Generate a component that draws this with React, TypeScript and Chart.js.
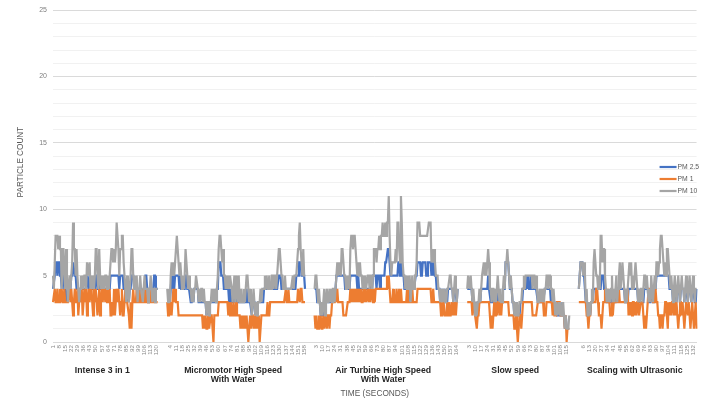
import { useEffect, useRef } from 'react';
import { Chart, registerables } from 'chart.js';

Chart.register(...registerables);

const SERIES_NAMES = ['PM 2.5', 'PM 1', 'PM 10'];
const SERIES_COLORS = ['#4472C4', '#ED7D31', '#A5A5A5'];
const GROUP_NAMES = [
  ['Intense 3 in 1'],
  ['Micromotor High Speed', 'With Water'],
  ['Air Turbine High Speed', 'With Water'],
  ['Slow speed'],
  ['Scaling with Ultrasonic'],
];
const GROUP_FIRST_TICK = [1, 4, 3, 3, 6];
const TICK_EVERY = 7;
const GAP_SLOTS = 10;
const Y_MAX = 25;
const Y_LABEL_EVERY = 5;
const X_TITLE = 'TIME (SECONDS)';
const Y_TITLE = 'PARTICLE COUNT';

// ---- Intense 3 in 1 ----
const G1_PM25 = [
  4,4,5,6,6,5,6,6,5,5, 4,5,5,4,4,3,3, 4,4,4,4,5,5, 6,6,5, 5,4,4,4, 3,4,4,4,4,4,
  4,4,4,5,5,4, 5,4,4,4,4,4, 4,5,5,4,4, 5,4,4,4, 4,4,4,4,4,4, 4,4,4,5,5,5,5,
  5,5,5,5,5,5, 4,5,5,5,5,4, 4,4,3,4,4,3,4,4, 5,5,5,4,4, 4,4,3,4,4,4,4,4,3,4,4,5,
  5,4,3,4,4,4,4,3,4,5,5,4,4,4,
];
const G1_PM1 = [
  3,3,4,3,3,4,3,3,4,3, 4,3,3,4,3,3,3, 3,4,4,3,4,3, 2,3,4, 3,3,4,2, 3,4,3,4,2,3,
  4,3,4,2,3,4, 3,4,4,3,2,4, 3,4,3,2,3, 4,2,3,4, 3,4,4,3,4,3, 4,3,4,2,2,3,2,
  4,2,3,4,3,4, 3,2,3,4,2,2, 3,4,3,3,3,2,1,3, 1,3,4,3,3, 3,4,3,3,4,3,3,4,3,3,3,4,
  3,3,3,4,3,3,4,3,3,3,3,3,3,3,
];
const G1_PM10 = [
  5,4,6,8,8,8,7,8,7,7, 4,7,7,5,4,7,5, 3,4,5,4,5,6, 9,7,7, 5,7,5,4, 3,4,5,4,5,4,
  5,5,4,6,6,5, 6,4,5,4,5,4, 5,7,7,5,4, 7,5,4,5, 4,5,4,5,5,4, 5,4,5,6,7,7,6,
  7,6,7,9,8,7, 5,7,7,8,8,6, 5,4,3,5,4,3,4,5, 7,7,5,4,5, 4,5,3,4,4,5,4,4,3,4,5,4,
  4,4,3,4,4,5,4,3,4,4,3,4,4,4,
];

// ---- Micromotor High Speed With Water ----
const G2_PM25 = [
  3,3,3,3, 4,5,4,5,4,5,5, 5,5, 5,4,5,4, 4,4,4,4, 5,5,4, 4,4,4,3, 3,4,3,4, 4,4,4,4,
  3,3,3,3,3,3,3, 3,3,2,3,3,2,3, 3,3,3,3,3,3, 3,4,4, 6,6,6,5,5,5,4, 4,4,4,4,
  4,3,4,3,3, 3,3,4,3,4,3,3,4, 3,3,3,3,3,3,3, 3,4,3,3,3, 3,3,2,3,3, 3,2,3,2,3,3,
  3,3,3,3,3,4, 4,4,4,4,4,4, 4,4,4,5,4,4,5,4,4,4,5,5,5,4, 4,4,4,4,4,4,4,4,
  4,4,4,4,4,4,4,4, 5,5,5,6, 6,6,5, 5,5,5,4,
];
const G2_PM1 = [
  3,2,3,2, 3,2,3,4,3,4,3, 3,3, 2,2,2,2, 2,2,2,2, 2,2,2, 2,2,2,2, 2,2,2,2, 2,2,2,2,
  2,2,2,2,2,1,2, 1,2,1,1,2,1,1, 2,2,1,0,2,2, 2,2,2, 3,3,3,3,3,3,3, 3,3,3,3,
  2,3,2,3,2, 2,3,2,2,3,2,2,2, 2,1,2,1,2,1,2, 1,2,1,0,1, 2,1,2,2,1, 2,1,2,1,1,2,
  0,1,2,2,2,2, 2,2,2,3,2,2, 3,3,3,3,3,3,3,3,3,3,3,3,3,3, 3,3,3,3,4,3,3,4,
  3,3,3,3,3,3,3,3, 3,3,4,4, 3,4,4, 3,3,3,3,
];
const G2_PM10 = [
  4,3,4,3, 5,6,5,6,5,6,6, 8,7, 6,5,6,5, 4,5,4,5, 7,6,5, 4,5,4,4, 3,4,3,4, 4,5,5,4,
  3,4,3,4,4,3,4, 3,3,2,3,3,2,3, 3,4,3,4,3,4, 3,4,5, 7,8,8,7,6,7,5, 5,4,5,4,
  5,4,5,5,4, 3,4,5,3,5,4,3,5, 3,3,4,3,3,4,3, 4,5,5,4,3, 4,3,2,3,4, 3,2,3,2,3,3,
  3,4,3,4,4,4, 5,4,5,4,4,5, 4,4,5,5,4,5,5,4,5,5,7,7,6,5, 5,4,4,5,4,4,4,4,
  4,4,4,4,5,4,5,5, 5,6,7,8, 9,7,6, 5,7,5,5,
];

// ---- Air Turbine High Speed With Water ----
const G3_PM25 = [
  4,4,4,3,3,3, 3,2,2,2,2,3,2, 3,3,3,3,3,3,3, 3,3,4,3,4,5,5,5, 5,5,5,5,5, 5,5,4,4,
  4,4,4,4,5,5, 5,5,5,5,5,5,4,5, 4,4,4,4,4,4, 4,4,4,4,4,4, 4,4,5,4,5,5,5,
  5,4,5,5,5,4,5, 5,5,5,5,6,6,6,7, 7,6,5, 5,5,5,5,5,5,5, 5,6,6,5, 6,6,5,
  5,4,4,4,4,4,4,4, 3,4,4,4,4,4,5,5, 6,6,6,6,5,5,6,6, 6,6,5,5,6,6,6,6,
  5,6,5,6,5,5,4,4, 4,4,3,4,3,4,3,4, 3,3,3,4,4,4,4, 4,4,3,4,4,4,3,4,
];
const G3_PM1 = [
  2,1,2,1,1,2, 1,2,1,1,2,1,2, 2,1,2,2,1,2,2, 3,3,3,3,4,3,4,3, 3,3,3,3,3, 2,2,2,2,
  2,3,3,3,4,3, 4,3,4,3,4,3,4,3, 4,3,4,3,3,4, 3,4,3,3,4,3, 4,3,4,4,3,4,3,
  4,4,4,4,4,4,4, 4,4,4,4,4,4,5,4, 5,4,3, 3,3,4,3,3,3,4, 3,3,4,3, 4,3,3,
  3,3,3,3,4,3,3,3, 3,3,4,3,3,3,3,3, 4,4,4,4,4,4,4,4, 4,4,4,4,4,4,4,4,
  3,3,4,3,3,3,3,3, 3,3,3,2,3,2,3,2, 2,2,3,2,3,2,2, 3,2,3,2,3,2,3,3,
];
const G3_PM10 = [
  4,5,5,4,3,4, 3,2,3,2,3,4,2, 3,4,3,3,4,3,4, 3,4,4,3,4,5,6,5, 6,6,5,7,7, 6,5,5,4,
  5,4,5,4,7,8, 8,7,8,8,7,6,5,6, 5,6,5,5,4,5, 4,5,4,4,5,5, 4,5,5,4,5,7,7,
  7,6,7,7,8,7,8, 8,9,8,8,9,8,9,9, 11,8,6, 5,6,6,6,6,7,6, 9,9,7,6, 11,9,6,
  5,5,4,5,4,5,4,5, 3,4,5,4,4,5,5,6, 9,9,9,8,8,8,8,8, 8,8,8,8,8,9,9,9,
  6,7,6,7,6,5,5,5, 4,4,3,4,3,4,3,4, 3,3,4,4,4,5,5, 4,4,3,4,5,4,3,4,
];

// ---- Slow speed ----
const G4_PM25 = [
  4,4,4,4,4, 4,3,3,3,2,3, 2,3,3,3,3,4, 4,4,4,4,4, 4,4,5,4,4, 3,3,3,4,3,3,
  3,3,4,3,3,3,3, 3,4,4,4,6,6, 6,6,5,4,4,4, 3,3,2,3,2,3, 2,2,2,3,3,3,
  4,4,4,4,5,4, 5,4,4,5,4,4,4, 4,4,4,4,3,3,3, 3,3,3,3,3,4,4, 4,4,4,4,4,3,
  3,3,3,3,2,3,2, 2,2,2,3,2,2,2, 2,1,2,1,1,1,1,
];
const G4_PM1 = [
  3,3,3,3,3, 3,2,3,3,2,2, 1,2,2,3,3,3, 3,3,3,3,3, 3,3,3,3,3, 1,2,1,2,3,2,
  3,2,3,3,2,3,2, 3,3,3,3,3,3, 3,3,2,2,2,2, 2,2,1,1,2,1, 0,1,2,2,1,2,
  3,3,3,3,3,3, 3,3,3,3,3,2,2, 2,2,2,2,3,3,3, 3,3,3,3,2,2,2, 3,3,3,3,3,3,
  3,2,3,2,2,2,3, 3,3,3,2,2,2,2, 2,1,2,0,1,1,1,
];
const G4_PM10 = [
  4,5,5,4,5, 4,3,4,3,2,3, 2,3,3,4,3,4, 5,5,6,5,6, 5,6,7,6,4, 4,3,4,4,3,4,
  3,4,5,4,3,4,3, 3,4,5,4,6,6, 7,6,5,4,5,4, 3,3,2,3,2,3, 2,2,3,3,3,4,
  4,5,4,5,5,5, 5,5,5,5,5,4,5, 5,4,5,4,3,3,4, 3,4,3,4,3,4,4, 5,5,4,5,5,4,
  4,3,4,3,2,3,2, 2,3,2,3,2,2,3, 2,1,2,1,1,1,2,
];

// ---- Scaling with Ultrasonic ----
const G5_PM25 = [
  4,5,6,6,6, 5,5,4,3,3, 2,2,3,2,3, 3,3,4,4,4, 4,4,4,4,4, 4,5,5,5,4,
  4,4,3,3,3,3, 3,3,4,3,3,3, 3,4,3,4,4,4, 4,4,4,4,4,3, 3,3,3,4,4,4,
  4,4,4,4,4,4, 4,4,3,3,3,3, 3,3,3,4,4,4, 4,4,3,3,3,4, 4,3,3,4,4,5,
  5,5,5,5,5,5, 5,5,5,5,5,5, 5,5,4,4,4,4, 3,4,4,4,3,4, 4,4,3,4,4,4,
  4,3,4,4,4,3, 4,4,4,3,4,4, 4,3,3,4,
];
const G5_PM1 = [
  3,3,3,3,3, 3,3,3,3,2, 2,1,2,2,3, 3,3,3,3,3, 4,4,3,2,2, 2,1,2,3,3,
  4,3,3,4,3,3, 2,2,3,2,3,3, 3,3,4,3,4,3, 3,3,3,3,3,3, 4,3,4,2,3,2,
  3,2,3,3,2,3, 2,3,3,2,2,3, 3,3,2,1,2,1, 2,3,4,4,4,4, 4,3,3,3,4,3,
  3,2,2,1,2,2, 1,2,2,3,3,2, 1,3,2,3,2,3, 3,2,3,2,3,2, 1,2,3,3,2,3,
  2,1,2,3,3,2, 3,2,1,2,3,2, 1,2,3,1,
];
const G5_PM10 = [
  4,5,6,6,6, 5,6,5,3,4, 2,2,3,2,3, 4,3,6,7,6, 5,5,4,5,4, 8,8,6,7,7,
  5,4,3,4,3,4, 3,4,5,3,4,3, 4,5,3,4,5,6, 4,5,6,5,4,3, 4,3,4,5,6,5,
  6,4,5,4,5,6, 5,4,3,4,3,4, 4,3,4,5,5,4, 5,4,3,4,3,5, 4,3,4,5,4,6,
  6,5,6,7,8,8, 7,6,5,6,5,7, 7,6,5,4,5,4, 3,4,5,4,3,4, 5,4,3,4,5,4,
  4,3,4,5,4,3, 4,5,4,3,4,5, 4,3,4,4,
];

const GROUP_PM25 = [G1_PM25, G2_PM25, G3_PM25, G4_PM25, G5_PM25];
const GROUP_PM1 = [G1_PM1, G2_PM1, G3_PM1, G4_PM1, G5_PM1];
const GROUP_PM10 = [G1_PM10, G2_PM10, G3_PM10, G4_PM10, G5_PM10];

// ---- assemble category axis and series ----
const labels: string[] = [];
const tickShown: boolean[] = [];
const pm25: (number | null)[] = [];
const pm1: (number | null)[] = [];
const pm10: (number | null)[] = [];
const groupSpans: [number, number][] = [];

GROUP_NAMES.forEach((_, gi) => {
  if (gi > 0) {
    for (let k = 0; k < GAP_SLOTS; k++) {
      labels.push('');
      tickShown.push(false);
      pm25.push(null);
      pm1.push(null);
      pm10.push(null);
    }
  }
  const n = Math.max(GROUP_PM25[gi].length, GROUP_PM1[gi].length, GROUP_PM10[gi].length);
  const start = labels.length;
  for (let i = 0; i < n; i++) {
    const sample = i + 1;
    labels.push(String(sample));
    tickShown.push(sample >= GROUP_FIRST_TICK[gi] && (sample - GROUP_FIRST_TICK[gi]) % TICK_EVERY === 0);
    pm25.push(GROUP_PM25[gi][i] ?? null);
    pm1.push(GROUP_PM1[gi][i] ?? null);
    pm10.push(GROUP_PM10[gi][i] ?? null);
  }
  groupSpans.push([start, labels.length - 1]);
});

const SERIES_DATA = [pm25, pm1, pm10];
const FONT = '"Liberation Sans", Arial, Helvetica, sans-serif';

const decorPlugin = {
  id: 'decor',
  afterDraw(chart: any) {
    const { ctx, chartArea } = chart;
    const x = chart.scales.x;
    ctx.save();

    // group names under the tick labels
    ctx.fillStyle = '#262626';
    ctx.font = `bold 8.7px ${FONT}`;
    ctx.textAlign = 'center';
    ctx.textBaseline = 'middle';
    groupSpans.forEach(([s, e], gi) => {
      const cx = (x.getPixelForValue(s) + x.getPixelForValue(e)) / 2 - 3;
      GROUP_NAMES[gi].forEach((line, li) => {
        ctx.fillText(line, cx, chartArea.bottom + 28.5 + li * 9.6);
      });
    });

    // x axis title
    ctx.fillStyle = '#595959';
    ctx.font = `8.3px ${FONT}`;
    ctx.fillText(X_TITLE, (chartArea.left + chartArea.right) / 2, chartArea.bottom + 51.5);

    // y axis title
    ctx.save();
    ctx.translate(21, (chartArea.top + chartArea.bottom) / 2 - 14);
    ctx.rotate(-Math.PI / 2);
    ctx.font = `8.2px ${FONT}`;
    ctx.fillText(Y_TITLE, 0, 0);
    ctx.restore();

    // legend (inside the plot, right side)
    ctx.font = `6.8px ${FONT}`;
    ctx.textAlign = 'left';
    const lx = chartArea.right - 37;
    chart.data.datasets.forEach((ds: any, i: number) => {
      const ly = 167 + i * 12;
      ctx.strokeStyle = ds.borderColor;
      ctx.lineWidth = 2.2;
      ctx.beginPath();
      ctx.moveTo(lx, ly);
      ctx.lineTo(lx + 17, ly);
      ctx.stroke();
      ctx.fillStyle = '#595959';
      ctx.fillText(ds.label, lx + 18, ly + 0.5);
    });

    ctx.restore();
  },
};

export default function App() {
  const canvasRef = useRef<HTMLCanvasElement | null>(null);

  useEffect(() => {
    document.body.style.margin = '0';
    const canvas = canvasRef.current;
    if (!canvas) return;
    const chart = new Chart(canvas, {
      type: 'line',
      data: {
        labels,
        datasets: SERIES_NAMES.map((name, k) => ({
          label: name,
          data: SERIES_DATA[k],
          borderColor: SERIES_COLORS[k],
          backgroundColor: SERIES_COLORS[k],
          borderWidth: 2.2,
          pointRadius: 0,
          pointHoverRadius: 0,
          tension: 0,
          spanGaps: false,
          order: SERIES_NAMES.length - k,
        })),
      },
      options: {
        animation: false,
        responsive: true,
        maintainAspectRatio: false,
        layout: { padding: { top: 10, right: 5, left: 0, bottom: 0 } },
        plugins: {
          legend: { display: false },
          tooltip: { enabled: false },
        },
        scales: {
          x: {
            type: 'category',
            offset: false,
            grid: { display: false, drawTicks: false },
            border: { display: true, color: '#d9d9d9' },
            ticks: {
              autoSkip: false,
              minRotation: 90,
              maxRotation: 90,
              padding: 3,
              color: '#8a8a8a',
              font: { size: 6.2, family: FONT },
              callback: (_v: any, i: number) => (tickShown[i] ? labels[i] : ''),
            },
            afterFit: (s: any) => {
              s.height = 64;
            },
          },
          y: {
            min: 0,
            max: Y_MAX,
            border: { display: false },
            grid: {
              drawTicks: false,
              color: (c: any) => (c.tick && c.tick.value % Y_LABEL_EVERY === 0 ? '#dadada' : '#f1f1f1'),
              lineWidth: 1,
            },
            ticks: {
              stepSize: 1,
              autoSkip: false,
              padding: 6,
              color: '#7f7f7f',
              font: { size: 7, family: FONT },
              callback: (v: any) => (Number(v) % Y_LABEL_EVERY === 0 ? String(v) : ''),
            },
            afterFit: (s: any) => {
              s.width = 53;
            },
          },
        },
      },
      plugins: [decorPlugin],
    });
    return () => chart.destroy();
  }, []);

  return (
    <div style={{ width: 707, height: 406, position: 'relative' }}>
      <canvas ref={canvasRef} />
    </div>
  );
}
